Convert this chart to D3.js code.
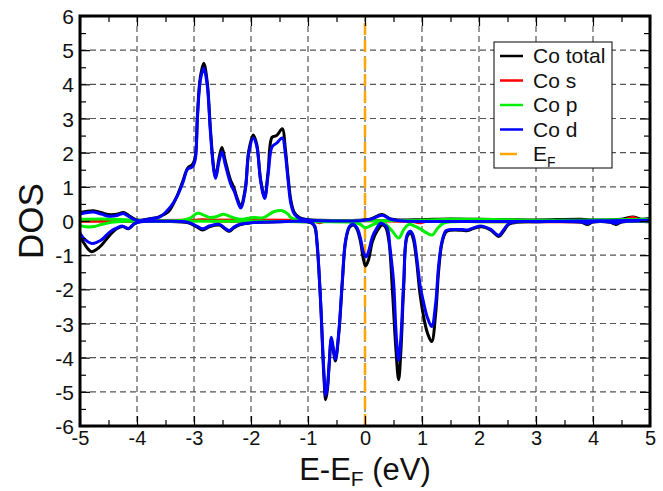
<!DOCTYPE html>
<html>
<head>
<meta charset="utf-8">
<script src="https://cdn.jsdelivr.net/npm/d3@7"></script>
<style>
  body { margin: 0; background: #fff; }
  svg text { font-family: "Liberation Sans", Arial, sans-serif; fill: #111; }
</style>
</head>
<body>
<svg id="chart" width="663" height="491"></svg>
<script>
// energy (eV) / DOS pairs, spin up (+) and spin down (-)
var totalUp = [[-5,0.25],[-4.9,0.28],[-4.76,0.3],[-4.62,0.24],[-4.5,0.19],[-4.35,0.2],[-4.24,0.25],[-4.15,0.17],[-4.05,0.06],[-3.95,0.02],[-3.8,0.06],[-3.6,0.13],[-3.45,0.27],[-3.3,0.72],[-3.2,1.15],[-3.11,1.55],[-3.03,1.65],[-2.98,1.85],[-2.94,3.1],[-2.89,4.2],[-2.83,4.62],[-2.77,4.1],[-2.71,2.65],[-2.65,1.5],[-2.62,1.3],[-2.56,1.85],[-2.51,2.15],[-2.45,1.75],[-2.36,1.2],[-2.3,0.98],[-2.25,0.7],[-2.18,0.45],[-2.1,0.95],[-2.04,2.05],[-1.96,2.52],[-1.9,2.25],[-1.83,1.2],[-1.76,0.7],[-1.7,1.45],[-1.63,2.45],[-1.55,2.5],[-1.45,2.7],[-1.4,2.15],[-1.35,1.3],[-1.3,0.6],[-1.24,0.25],[-1.15,0.1],[-1.0,0.04],[-0.8,0.02],[-0.1,0.02],[0.1,0.06],[0.3,0.19],[0.45,0.06],[0.6,0.03],[1.0,0.04],[1.5,0.06],[2.0,0.05],[2.5,0.04],[3.0,0.03],[3.8,0.05],[4.0,0.03],[4.5,0.05],[4.7,0.12],[4.85,0.05],[5,0.08]];
var totalDown = [[-5,-0.45],[-4.94,-0.62],[-4.87,-0.8],[-4.8,-0.9],[-4.7,-0.82],[-4.62,-0.7],[-4.47,-0.4],[-4.35,-0.22],[-4.25,-0.16],[-4.15,-0.23],[-4.05,-0.09],[-3.95,-0.02],[-3.5,-0.01],[-3.1,-0.05],[-2.95,-0.17],[-2.85,-0.26],[-2.72,-0.16],[-2.55,-0.12],[-2.45,-0.24],[-2.38,-0.3],[-2.3,-0.2],[-2.2,-0.11],[-2.0,-0.05],[-1.5,-0.02],[-1.0,-0.03],[-0.93,-0.07],[-0.88,-0.18],[-0.84,-0.7],[-0.78,-2.35],[-0.72,-4.6],[-0.69,-5.23],[-0.66,-4.95],[-0.63,-4.25],[-0.59,-3.45],[-0.55,-3.85],[-0.52,-4.1],[-0.46,-3.3],[-0.4,-1.85],[-0.34,-0.6],[-0.27,-0.18],[-0.2,-0.12],[-0.14,-0.24],[-0.08,-0.6],[-0.03,-1.1],[0.01,-1.32],[0.06,-1.15],[0.13,-0.6],[0.21,-0.3],[0.3,-0.12],[0.36,-0.18],[0.42,-0.6],[0.48,-2.0],[0.54,-3.7],[0.59,-4.65],[0.63,-3.8],[0.68,-1.9],[0.74,-0.45],[0.8,-0.35],[0.85,-0.55],[0.9,-1.1],[0.97,-2.2],[1.04,-2.9],[1.1,-3.3],[1.17,-3.53],[1.24,-2.7],[1.29,-1.5],[1.35,-0.65],[1.42,-0.32],[1.5,-0.27],[1.7,-0.27],[1.8,-0.28],[1.9,-0.22],[2.05,-0.17],[2.2,-0.26],[2.35,-0.45],[2.43,-0.3],[2.52,-0.1],[2.7,-0.03],[3.0,-0.02],[3.8,-0.04],[3.9,-0.1],[4.0,-0.03],[4.3,-0.04],[4.4,-0.1],[4.5,-0.03],[5,-0.02]];

var sUp = [[-5,0.01],[-3.0,0.01],[-2.85,0.04],[-2.7,0.01],[0,0.01],[4.5,0.02],[4.7,0.1],[4.85,0.02],[5,0.02]];
var sDown = [[-5,-0.01],[-0.9,-0.01],[-0.8,-0.05],[-0.7,-0.01],[0.8,-0.01],[0.95,-0.05],[1.1,-0.01],[5,-0.01]];

var pUp = [[-5,0.05],[-4.6,0.06],[-4.2,0.04],[-4.0,0.02],[-3.2,0.02],[-3.05,0.1],[-2.94,0.23],[-2.8,0.15],[-2.71,0.1],[-2.6,0.13],[-2.48,0.2],[-2.35,0.12],[-2.18,0.05],[-2.05,0.08],[-1.95,0.1],[-1.78,0.1],[-1.6,0.27],[-1.45,0.3],[-1.35,0.2],[-1.3,0.1],[-1.13,0.02],[-0.5,0.01],[1.0,0.02],[1.5,0.05],[2.5,0.04],[3.0,0.02],[5,0.05]];
var pDown = [[-5,-0.13],[-4.9,-0.17],[-4.75,-0.16],[-4.62,-0.1],[-4.45,-0.04],[-4.2,-0.01],[-1.0,-0.02],[-0.3,-0.03],[-0.1,-0.08],[0.01,-0.2],[0.12,-0.12],[0.22,-0.06],[0.35,-0.08],[0.48,-0.3],[0.59,-0.5],[0.68,-0.25],[0.77,-0.1],[0.87,-0.15],[0.97,-0.23],[1.08,-0.35],[1.18,-0.41],[1.28,-0.2],[1.38,-0.06],[1.56,-0.02],[2.0,-0.02],[5,-0.01]];

var dUp = [[-5,0.2],[-4.9,0.24],[-4.76,0.26],[-4.62,0.2],[-4.5,0.14],[-4.35,0.16],[-4.24,0.22],[-4.15,0.14],[-4.05,0.04],[-3.95,0.01],[-3.8,0.05],[-3.6,0.12],[-3.41,0.42],[-3.3,0.71],[-3.2,1.1],[-3.11,1.52],[-3.03,1.58],[-2.98,1.78],[-2.94,3.0],[-2.89,4.1],[-2.83,4.47],[-2.77,4.0],[-2.71,2.55],[-2.65,1.45],[-2.62,1.25],[-2.56,1.75],[-2.51,2.02],[-2.45,1.64],[-2.36,1.1],[-2.29,0.85],[-2.24,0.6],[-2.18,0.38],[-2.1,0.9],[-2.04,1.98],[-1.96,2.43],[-1.9,2.2],[-1.83,1.15],[-1.76,0.66],[-1.7,1.35],[-1.63,2.17],[-1.55,2.28],[-1.45,2.43],[-1.4,2.0],[-1.35,1.2],[-1.3,0.5],[-1.24,0.2],[-1.15,0.08],[-1.0,0.03],[-0.8,0.01],[-0.1,0.01],[0.1,0.05],[0.3,0.17],[0.45,0.05],[0.6,0.01],[5,0.02]];
var dDown = [[-5,-0.35],[-4.94,-0.5],[-4.85,-0.62],[-4.79,-0.66],[-4.7,-0.62],[-4.62,-0.55],[-4.47,-0.31],[-4.35,-0.2],[-4.25,-0.15],[-4.15,-0.22],[-4.05,-0.08],[-3.95,-0.02],[-3.5,-0.01],[-3.1,-0.04],[-2.95,-0.15],[-2.85,-0.23],[-2.72,-0.14],[-2.55,-0.1],[-2.45,-0.22],[-2.38,-0.28],[-2.3,-0.18],[-2.2,-0.1],[-2.0,-0.05],[-1.5,-0.02],[-1.0,-0.02],[-0.93,-0.06],[-0.88,-0.15],[-0.84,-0.65],[-0.78,-2.3],[-0.72,-4.45],[-0.69,-5.1],[-0.66,-4.85],[-0.63,-4.2],[-0.59,-3.4],[-0.55,-3.8],[-0.52,-4.05],[-0.46,-3.25],[-0.4,-1.8],[-0.34,-0.56],[-0.27,-0.15],[-0.2,-0.1],[-0.14,-0.2],[-0.08,-0.5],[-0.03,-0.9],[0.02,-1.05],[0.07,-0.85],[0.13,-0.46],[0.21,-0.2],[0.27,-0.07],[0.33,-0.1],[0.39,-0.2],[0.44,-0.8],[0.5,-1.75],[0.55,-3.4],[0.59,-4.08],[0.63,-3.4],[0.68,-1.73],[0.74,-0.4],[0.8,-0.3],[0.85,-0.45],[0.92,-1.24],[0.97,-1.92],[1.03,-2.4],[1.09,-2.8],[1.17,-3.09],[1.24,-2.4],[1.29,-1.34],[1.35,-0.6],[1.42,-0.28],[1.5,-0.25],[1.7,-0.25],[1.8,-0.26],[1.9,-0.2],[2.05,-0.15],[2.2,-0.24],[2.35,-0.42],[2.43,-0.26],[2.52,-0.08],[2.7,-0.02],[3.0,-0.02],[3.8,-0.03],[3.9,-0.07],[4.0,-0.02],[4.3,-0.03],[4.4,-0.07],[4.5,-0.02],[5,0]];

var xTicks = [-5,-4,-3,-2,-1,0,1,2,3,4,5];
var yTicks = [-6,-5,-4,-3,-2,-1,0,1,2,3,4,5,6];
var xMinor = [-4.5,-3.5,-2.5,-1.5,-0.5,0.5,1.5,2.5,3.5,4.5];
var yMinor = [-5.5,-4.5,-3.5,-2.5,-1.5,-0.5,0.5,1.5,2.5,3.5,4.5,5.5];

var legendNames = ["Co total", "Co s", "Co p", "Co d"];
var legendColors = ["#000000", "#ff0000", "#00ee00", "#0000ff"];

var svg = d3.select("#chart");
var margin = {top: 16, right: 13, bottom: 65, left: 80},
    width = 663 - margin.left - margin.right,
    height = 491 - margin.top - margin.bottom;

var xScale = d3.scaleLinear().domain([-5, 5]).range([0, width]);
var yScale = d3.scaleLinear().domain([-6, 6]).range([height, 0]);

// plain hyphen for negatives, like the original plot
var fmt = function(d) { return String(d); };

var g = svg.append("g")
    .attr("transform", "translate(" + margin.left + "," + margin.top + ")");

// grid
g.selectAll(".gx").data(xTicks.slice(1, -1)).enter().append("line")
    .attr("x1", d => xScale(d)).attr("x2", d => xScale(d))
    .attr("y1", 0).attr("y2", height)
    .attr("stroke", "#555").attr("stroke-width", 1.2).attr("stroke-dasharray", "6,4");
g.selectAll(".gy").data(yTicks.slice(1, -1)).enter().append("line")
    .attr("y1", d => yScale(d)).attr("y2", d => yScale(d))
    .attr("x1", 0).attr("x2", width)
    .attr("stroke", "#555").attr("stroke-width", 1.2).attr("stroke-dasharray", "6,4");

// Fermi level
g.append("line")
    .attr("x1", xScale(0)).attr("x2", xScale(0))
    .attr("y1", height).attr("y2", 0)
    .attr("stroke", "#ffa500").attr("stroke-width", 2.5).attr("stroke-dasharray", "12,5");

var line = d3.line()
    .x(d => xScale(d[0]))
    .y(d => yScale(d[1]))
    .curve(d3.curveCatmullRom.alpha(0.5));

var series = [
  [totalUp, "#000000"], [totalDown, "#000000"],
  [sUp, "#ff0000"], [sDown, "#ff0000"],
  [pUp, "#00ee00"], [pDown, "#00ee00"],
  [dUp, "#0000ff"], [dDown, "#0000ff"]
];
series.forEach(function(s) {
  g.append("path")
    .datum(s[0])
    .attr("fill", "none")
    .attr("stroke", s[1])
    .attr("stroke-width", 3)
    .attr("stroke-linejoin", "round")
    .attr("d", line);
});

// axes with inward ticks
var xAxis = g.append("g").attr("transform", "translate(0," + height + ")")
    .call(d3.axisBottom(xScale).tickValues(xTicks).tickSize(-10).tickPadding(5).tickFormat(fmt));
g.append("g").attr("transform", "translate(0," + height + ")")
    .call(d3.axisBottom(xScale).tickValues(xMinor).tickSize(-6).tickFormat(""));
g.append("g").call(d3.axisTop(xScale).tickValues(xTicks).tickSize(-10).tickFormat(""));
g.append("g").call(d3.axisTop(xScale).tickValues(xMinor).tickSize(-6).tickFormat(""));

var yAxis = g.append("g")
    .call(d3.axisLeft(yScale).tickValues(yTicks).tickSize(-10).tickPadding(6).tickFormat(fmt));
g.append("g").call(d3.axisLeft(yScale).tickValues(yMinor).tickSize(-6).tickFormat(""));
g.append("g").attr("transform", "translate(" + width + ",0)")
    .call(d3.axisRight(yScale).tickValues(yTicks).tickSize(-10).tickFormat(""));
g.append("g").attr("transform", "translate(" + width + ",0)")
    .call(d3.axisRight(yScale).tickValues(yMinor).tickSize(-6).tickFormat(""));

g.selectAll(".domain").remove();
g.selectAll(".tick line").attr("stroke", "#000").attr("stroke-width", 1.2);
xAxis.selectAll("text").attr("font-size", 20).attr("font-family", "Liberation Sans, Arial, sans-serif").attr("fill", "#111");
yAxis.selectAll("text").attr("font-size", 21).attr("font-family", "Liberation Sans, Arial, sans-serif").attr("fill", "#111").attr("dy", "0.36em");

g.append("rect")
    .attr("width", width).attr("height", height)
    .attr("fill", "none").attr("stroke", "#000").attr("stroke-width", 3);

// axis titles
svg.append("text")
    .attr("text-anchor", "middle")
    .attr("transform", "translate(43," + (margin.top + height / 2) + ") rotate(-90)")
    .attr("font-size", 35)
    .text("DOS");

var xt = svg.append("text")
    .attr("text-anchor", "middle")
    .attr("x", margin.left + width / 2)
    .attr("y", 480)
    .attr("font-size", 31);
xt.append("tspan").text("E-E");
xt.append("tspan").attr("font-size", 21).attr("dy", 6).text("F");
xt.append("tspan").attr("dy", -6).text(" (eV)");

// legend
var lg = svg.append("g").attr("transform", "translate(494,42)");
lg.append("rect").attr("width", 118).attr("height", 126)
    .attr("fill", "#fff").attr("stroke", "#000").attr("stroke-width", 1);
legendNames.forEach(function(name, i) {
  var y = 14 + i * 24.5;
  lg.append("line").attr("x1", 6).attr("x2", 29).attr("y1", y).attr("y2", y)
    .attr("stroke", legendColors[i]).attr("stroke-width", 2.5);
  lg.append("text").attr("x", 39).attr("y", y).attr("dy", "0.35em")
    .attr("font-size", 21).text(name);
});
var ey = 14 + 4 * 24.5;
lg.append("line").attr("x1", 6).attr("x2", 23).attr("y1", ey).attr("y2", ey)
    .attr("stroke", "#ffa500").attr("stroke-width", 2.5);
var et = lg.append("text").attr("x", 39).attr("y", ey).attr("dy", "0.35em").attr("font-size", 21);
et.append("tspan").text("E");
et.append("tspan").attr("font-size", 14).attr("dy", 6).text("F");
</script>
</body>
</html>
